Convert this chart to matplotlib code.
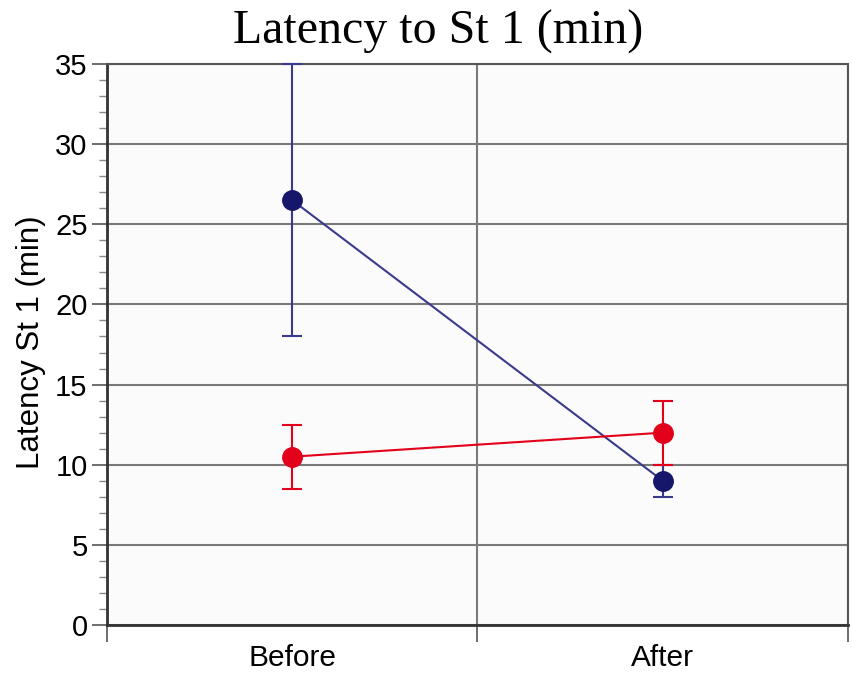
import matplotlib.pyplot as plt
from matplotlib.ticker import MultipleLocator, FixedLocator

plt.rcParams['font.family'] = ['Liberation Sans', 'DejaVu Sans']

groups = ["Before", "After"]
blue_mean = [26.5, 9.0]
blue_low = [18.0, 8.0]
blue_high = [35.0, 10.0]
red_mean = [10.5, 12.0]
red_low = [8.5, 10.0]
red_high = [12.5, 14.0]


def main():
    fig = plt.figure(figsize=(8.53, 6.75), dpi=100)
    ax = fig.add_axes([107 / 853, 1 - 625 / 675, 741 / 853, 561 / 675])
    ax.set_facecolor('#fbfbfb')

    x = [1, 2]
    b_err = [[m - lo for m, lo in zip(blue_mean, blue_low)],
             [hi - m for m, hi in zip(blue_mean, blue_high)]]
    r_err = [[m - lo for m, lo in zip(red_mean, red_low)],
             [hi - m for m, hi in zip(red_mean, red_high)]]

    ax.errorbar(x, blue_mean, yerr=b_err, color='#3a3a8a', ecolor='#3a3a8a',
                elinewidth=1.5, capsize=7.5, capthick=1.5, lw=1.5,
                marker='o', ms=14, mfc='#16166a', mec='#16166a', zorder=3,
                clip_on=False)
    ax.errorbar(x, red_mean, yerr=r_err, color='#e3001b', ecolor='#e3001b',
                elinewidth=1.5, capsize=7.5, capthick=1.5, lw=1.5,
                marker='o', ms=14, mfc='#e3001b', mec='#e3001b', zorder=4,
                clip_on=False)

    ax.set_xlim(0.5, 2.5)
    ax.set_ylim(0, 35)
    ax.yaxis.set_major_locator(MultipleLocator(5))
    ax.yaxis.set_minor_locator(MultipleLocator(1))
    ax.xaxis.set_major_locator(FixedLocator(x))
    ax.set_xticklabels(groups)
    ax.xaxis.set_minor_locator(FixedLocator([0.5, 1.5, 2.5]))

    ax.grid(axis='y', which='major', color='#7a7a7a', lw=1.5, zorder=1)
    ax.grid(axis='x', which='minor', color='#7a7a7a', lw=1.5, zorder=1)

    ax.tick_params(axis='y', which='major', length=11, width=1.2,
                   labelsize=21, pad=3, color='#555555')
    ax.tick_params(axis='y', which='minor', length=6, width=1,
                   color='#888888')
    ax.tick_params(axis='x', which='major', length=0, labelsize=21.5, pad=14)
    ax.tick_params(axis='x', which='minor', length=12, width=1.2,
                   color='#555555')

    for side in ['left', 'bottom']:
        ax.spines[side].set_color('#333333')
        ax.spines[side].set_linewidth(2)
    for side in ['top', 'right']:
        ax.spines[side].set_color('#555555')
        ax.spines[side].set_linewidth(1.5)

    ax.set_ylabel("Latency St 1 (min)", fontsize=22.5, labelpad=2)
    ax.yaxis.set_label_coords(-0.082, 0.505)
    fig.text(0.514, 0.953, "Latency to St 1 (min)", ha='center', va='center',
             fontsize=34.5, family='Liberation Serif')

    fig.savefig('out.png', dpi=100)


if __name__ == '__main__':
    main()
